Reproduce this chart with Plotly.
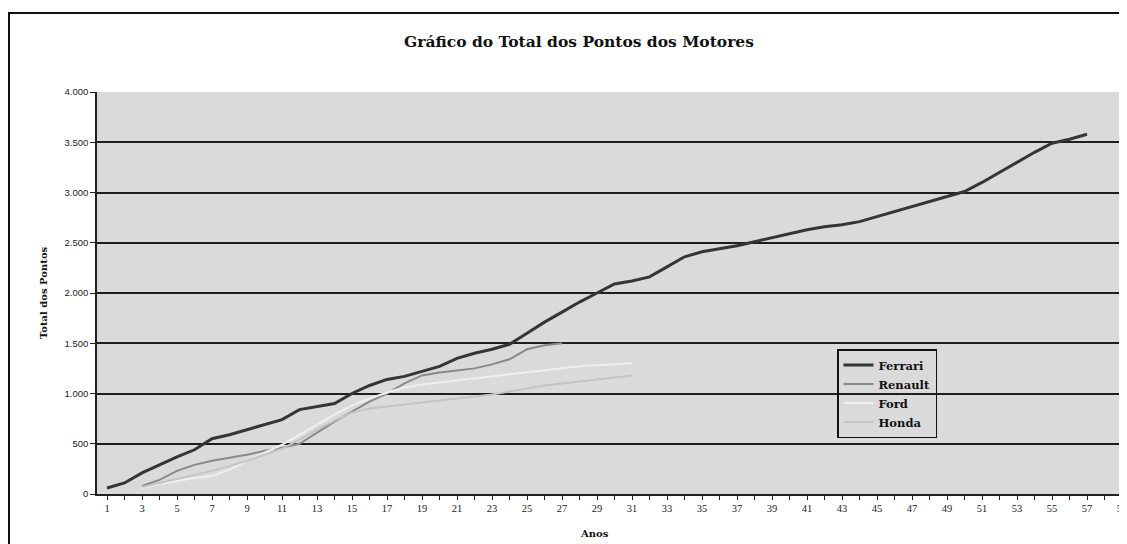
import plotly.graph_objects as go

# ---- data ----
ferrari_x = list(range(1, 58))
ferrari_y = [60, 110, 210, 290, 370, 440, 550, 590, 640, 690,
             740, 840, 870, 900, 1000, 1080, 1140, 1170, 1220, 1270,
             1350, 1400, 1440, 1490, 1600, 1710, 1810, 1910, 2000, 2090,
             2120, 2160, 2260, 2360, 2410, 2440, 2470, 2510, 2550, 2590,
             2630, 2660, 2680, 2710, 2760, 2810, 2860, 2910, 2960, 3010,
             3100, 3200, 3300, 3400, 3490, 3530, 3580]

renault_x = list(range(3, 28))
renault_y = [80, 140, 230, 290, 330, 360, 390, 430, 460, 500,
             610, 720, 820, 920, 1000, 1100, 1180, 1210, 1230, 1250,
             1290, 1340, 1440, 1480, 1500]

ford_x = list(range(3, 32))
ford_y = [60, 100, 130, 160, 180, 240, 330, 410, 490, 590,
          690, 790, 880, 950, 1010, 1060, 1090, 1110, 1130, 1150,
          1170, 1190, 1210, 1230, 1250, 1270, 1280, 1290, 1300]

honda_x = list(range(3, 32))
honda_y = [70, 110, 150, 190, 230, 280, 330, 390, 450, 540,
           640, 730, 810, 850, 870, 890, 910, 930, 950, 970,
           990, 1020, 1050, 1080, 1100, 1120, 1140, 1160, 1180]

y_tickvals = [0, 500, 1000, 1500, 2000, 2500, 3000, 3500, 4000]
y_ticktext = ["0", "500", "1.000", "1.500", "2.000", "2.500", "3.000", "3.500", "4.000"]

title_text = "Gráfico do Total dos Pontos dos Motores"
x_title = "Anos"
y_title = "Total dos Pontos"

serif = "Liberation Serif, Times New Roman, serif"
wide_serif = "DejaVu Serif, Liberation Serif, serif"

fig = go.Figure()
series = [
    ("Ferrari", ferrari_x, ferrari_y, "#353535", 3.0),
    ("Renault", renault_x, renault_y, "#8a8a8a", 2.0),
    ("Ford", ford_x, ford_y, "#efefef", 2.0),
    ("Honda", honda_x, honda_y, "#c4c4c4", 2.0),
]
for name, xs, ys, col, w in series:
    fig.add_trace(go.Scatter(x=xs, y=ys, mode="lines", name="<b>" + name + "</b>",
                             line=dict(color=col, width=w)))

# page offset of the figure inside the browser window (body margin)
OFF = 8
W, H = 1127, 544
L, R, T, B = 89, 0, 84, 58
pw = W - L - R
ph = H - T - B

def px_x(screen_x):
    return (screen_x - OFF - L) / pw

def px_y(screen_y):
    return (T + ph - (screen_y - OFF)) / ph

fig.update_layout(
    width=W, height=H,
    margin=dict(l=L, r=R, t=T, b=B, autoexpand=False),
    paper_bgcolor="white",
    plot_bgcolor="#dadada",
    title=dict(text="<b>" + title_text + "</b>", x=(579 - OFF) / W, xanchor="center",
               y=1 - (42 - OFF) / H, yanchor="middle", yref="container",
               font=dict(family=wide_serif, size=15.5, color="#111111")),
    xaxis=dict(range=[1 - 10 / 17.5, 1 + (pw - 10) / 17.5], tick0=1, dtick=2,
               showgrid=False, zeroline=False, showline=True,
               linecolor="#222222", linewidth=1.5,
               ticks="outside", ticklen=4, tickwidth=1.2, tickcolor="#222222",
               minor=dict(dtick=1, tick0=0, ticks="outside", ticklen=4,
                          tickwidth=1.2, tickcolor="#222222", showgrid=False),
               tickfont=dict(family=serif, size=10.5, color="#222222")),
    yaxis=dict(range=[0, 4000], tickvals=y_tickvals, ticktext=y_ticktext,
               showgrid=True, gridcolor="#1e1e1e", gridwidth=1.8,
               zeroline=False, showline=True, linecolor="#222222", linewidth=1.5,
               ticks="outside", ticklen=5, tickwidth=1.2, tickcolor="#222222",
               tickfont=dict(family="Liberation Sans, Arial, sans-serif", size=9.5,
                             color="#222222")),
    legend=dict(x=px_x(837), y=px_y(349), xanchor="left", yanchor="top",
                bgcolor="rgba(0,0,0,0)", bordercolor="#111111", borderwidth=1.5,
                font=dict(family=wide_serif, size=11.5, color="#111111"),
                itemwidth=30, tracegroupgap=0),
    showlegend=True,
    annotations=[
        dict(text="<b>" + y_title + "</b>", xref="paper", yref="paper",
             x=px_x(43), y=px_y(293), textangle=-90, showarrow=False,
             xanchor="center", yanchor="middle",
             font=dict(family=wide_serif, size=10, color="#111111")),
        dict(text="<b>" + x_title + "</b>", xref="paper", yref="paper",
             x=px_x(594), y=px_y(533), showarrow=False,
             xanchor="center", yanchor="middle",
             font=dict(family=wide_serif, size=10, color="#111111")),
    ],
    shapes=[
        dict(type="rect", xref="paper", yref="paper",
             x0=px_x(9), x1=1.2, y0=-0.3, y1=px_y(13),
             line=dict(color="#111111", width=2), fillcolor="rgba(0,0,0,0)",
             layer="below"),
    ],
)

fig.write_html("out.html")
